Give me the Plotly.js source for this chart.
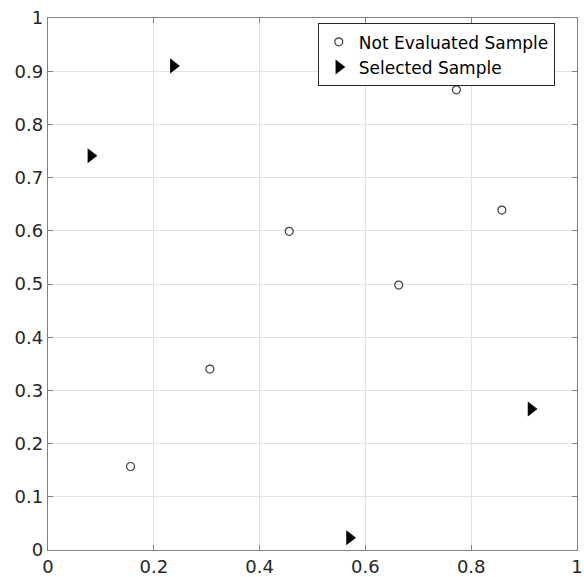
<!DOCTYPE html>
<html>
<head>
<meta charset="utf-8">
<script src="https://cdn.plot.ly/plotly-3.0.1.min.js"></script>
<style>html,body{margin:0;padding:0;background:#fff;}#chart{width:584px;height:577px;}</style>
</head>
<body>
<div id="chart"></div>
<script>
const notEvalX = [0.156, 0.306, 0.456, 0.663, 0.772, 0.858];
const notEvalY = [0.157, 0.340, 0.599, 0.498, 0.865, 0.639];
const selX = [0.081, 0.237, 0.570, 0.913];
const selY = [0.741, 0.910, 0.023, 0.265];
const tickVals = [0, 0.2, 0.4, 0.6, 0.8, 1];
const tickText = ['0', '0.2', '0.4', '0.6', '0.8', '1'];
const yTickVals = [0, 0.1, 0.2, 0.3, 0.4, 0.5, 0.6, 0.7, 0.8, 0.9, 1];
const yTickText = ['0', '0.1', '0.2', '0.3', '0.4', '0.5', '0.6', '0.7', '0.8', '0.9', '1'];

const traces = [
  {x: notEvalX, y: notEvalY, mode: 'markers', type: 'scatter', name: 'Not Evaluated Sample',
   marker: {symbol: 'circle-open', size: 8, color: '#404040', line: {width: 1.2, color: '#404040'}}},
  {x: selX, y: selY, mode: 'markers', type: 'scatter', name: 'Selected Sample',
   marker: {symbol: 'triangle-right', size: 13, color: '#000000'}}
];

const axisCommon = {
  range: [0, 1], showline: true, linecolor: '#808080', linewidth: 1.2, mirror: 'ticks',
  ticks: 'inside', ticklen: 5, tickcolor: '#808080', tickwidth: 1,
  showgrid: true, gridcolor: '#e3e3e3', gridwidth: 1, zeroline: false,
  tickfont: {family: 'DejaVu Sans, sans-serif', size: 18, color: '#262626'},
  ticklabeloverflow: 'allow',
  fixedrange: true
};

const layout = {
  width: 584, height: 577,
  margin: {l: 48, r: 7, t: 18, b: 27, pad: 0},
  paper_bgcolor: '#ffffff', plot_bgcolor: '#ffffff',
  xaxis: Object.assign({}, axisCommon, {tickmode: 'array', tickvals: tickVals, ticktext: tickText}),
  yaxis: Object.assign({}, axisCommon, {tickmode: 'array', tickvals: yTickVals, ticktext: yTickText}),
  showlegend: true,
  legend: {x: 0.51, y: 0.99, xanchor: 'left', yanchor: 'top',
    bgcolor: '#ffffff', bordercolor: '#262626', borderwidth: 1,
    font: {family: 'DejaVu Sans, sans-serif', size: 17, color: '#000'},
    tracegroupgap: 0, itemwidth: 30}
};

Plotly.newPlot('chart', traces, layout, {displayModeBar: false, staticPlot: true});
</script>
</body>
</html>
